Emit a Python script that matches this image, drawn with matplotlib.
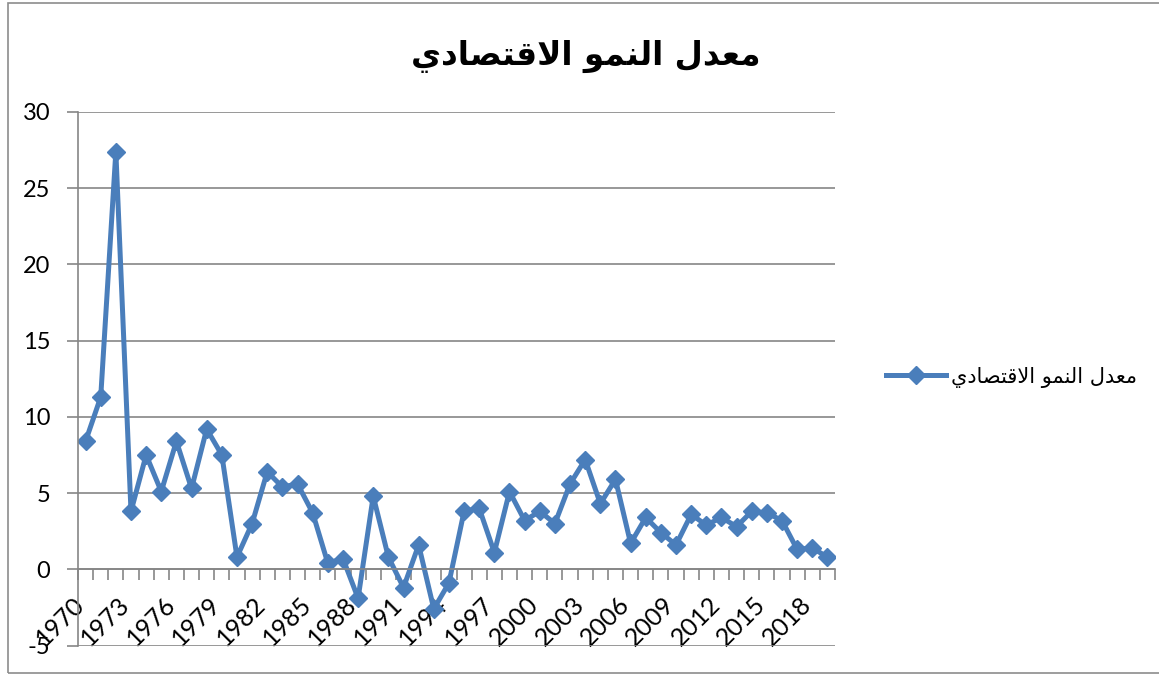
import numpy as np
import matplotlib.pyplot as plt
from matplotlib.patches import Rectangle

# البيانات
years = list(range(1970, 2020))
growth = [8.4, 11.3, 27.4, 3.8, 7.5, 5.1, 8.4, 5.3, 9.2, 7.5,
          0.8, 3.0, 6.4, 5.4, 5.6, 3.7, 0.4, 0.7, -1.9, 4.8,
          0.8, -1.2, 1.6, -2.6, -0.9, 3.8, 4.0, 1.1, 5.1, 3.2,
          3.8, 3.0, 5.6, 7.2, 4.3, 5.9, 1.7, 3.4, 2.4, 1.6,
          3.6, 2.9, 3.4, 2.8, 3.8, 3.7, 3.2, 1.3, 1.4, 0.8]
y_ticks = [-5, 0, 5, 10, 15, 20, 25, 30]
title = 'معدل النمو الاقتصادي'
series_name = 'معدل النمو الاقتصادي'

# matplotlib does not shape arabic: map letters to presentation forms
FORMS = {
    'ا': (0xFE8D, 0xFE8E), 'د': (0xFEA9, 0xFEAA), 'و': (0xFEED, 0xFEEE),
    'ل': (0xFEDD, 0xFEDE, 0xFEDF, 0xFEE0), 'م': (0xFEE1, 0xFEE2, 0xFEE3, 0xFEE4),
    'ع': (0xFEC9, 0xFECA, 0xFECB, 0xFECC), 'ن': (0xFEE5, 0xFEE6, 0xFEE7, 0xFEE8),
    'ق': (0xFED5, 0xFED6, 0xFED7, 0xFED8), 'ت': (0xFE95, 0xFE96, 0xFE97, 0xFE98),
    'ص': (0xFEB9, 0xFEBA, 0xFEBB, 0xFEBC), 'ي': (0xFEF1, 0xFEF2, 0xFEF3, 0xFEF4),
}

def shape(s):
    out = []
    i = 0
    while i < len(s):
        c = s[i]
        if c not in FORMS:
            out.append(c)
            i += 1
            continue
        prev = s[i - 1] if i > 0 else ' '
        pj = prev in FORMS and len(FORMS[prev]) == 4
        if c == 'ل' and i + 1 < len(s) and s[i + 1] == 'ا':
            out.append(chr(0xFEFC if pj else 0xFEFB))
            i += 2
            continue
        nxt = s[i + 1] if i + 1 < len(s) else ' '
        nj = nxt in FORMS and len(FORMS[c]) == 4
        f = FORMS[c]
        if pj and nj:
            out.append(chr(f[3]))
        elif pj:
            out.append(chr(f[1]))
        elif nj:
            out.append(chr(f[2]))
        else:
            out.append(chr(f[0]))
        i += 1
    return ''.join(out)[::-1]

grey = '#868686'
blue = '#4a7ebb'

fig = plt.figure(figsize=(11.59, 6.75), dpi=100)
ax = fig.add_axes([78/1159, 29.5/675, (835-78)/1159, (645.5-112)/675])

x = np.arange(len(years))
line, = ax.plot(x, growth, color=blue, lw=3.6, marker='D', ms=9.5,
                markeredgecolor=blue, label=shape(series_name))

ax.set_xlim(-0.5, len(years) - 0.5)
ax.set_ylim(-5, 30)
ax.set_yticks(y_ticks)
ax.set_yticklabels([str(v) for v in y_ticks], family='Lato', fontsize=17)
ax.grid(axis='y', color=grey, lw=1.2)
ax.set_axisbelow(True)

for s in ['top', 'right']:
    ax.spines[s].set_visible(False)
ax.spines['left'].set_color(grey)
ax.spines['left'].set_linewidth(1.2)
ax.spines['bottom'].set_position(('data', 0))
ax.spines['bottom'].set_color(grey)
ax.spines['bottom'].set_linewidth(1.2)

ax.set_xticks(x[::3] + 0.2)
ax.set_xticklabels([str(y) for y in years[::3]], rotation=45, ha='right',
                   va='top', family='Lato', fontsize=18)
ax.set_xticks(np.arange(-0.5, len(years), 1), minor=True)
ax.tick_params(axis='x', which='major', length=0, pad=17)
ax.tick_params(axis='x', which='minor', length=8, color=grey, width=1.2)
ax.tick_params(axis='y', length=8, color=grey, width=1.2, pad=12)

fig.text(0.505, 0.916, shape(title), fontsize=23.5, fontweight='bold',
         family='DejaVu Sans', ha='center', va='center')

fig.legend(handles=[line], loc='center left', bbox_to_anchor=(886/1159, 1 - 377/675),
           frameon=False, handlelength=2.9, handletextpad=0.2, borderpad=0,
           borderaxespad=0, prop={'family': 'DejaVu Sans', 'size': 15})

fig.add_artist(Rectangle((8/1159, 2/675), 1.05, 670/675, transform=fig.transFigure,
                         fill=False, ec='#8c8c8c', lw=1.2))

fig.savefig('out.png', dpi=100)
